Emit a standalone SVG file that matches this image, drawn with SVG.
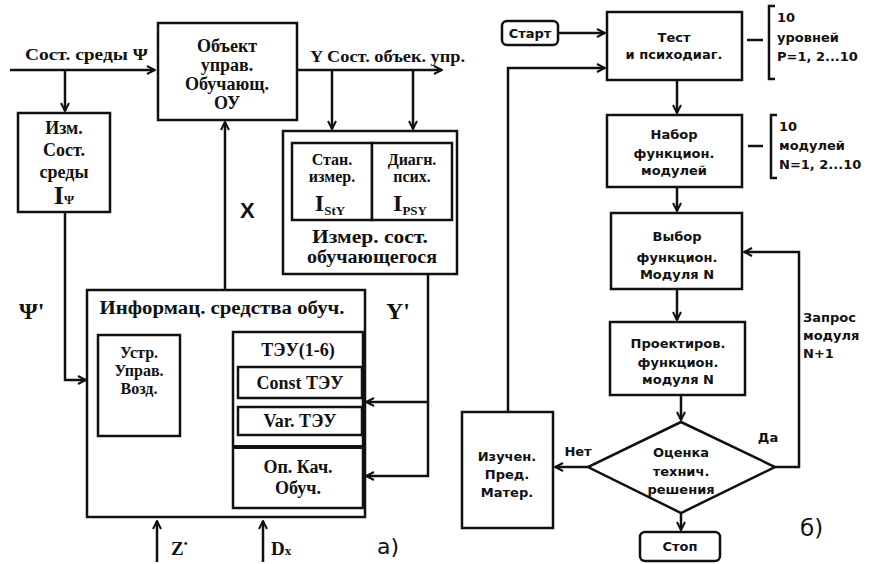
<svg xmlns="http://www.w3.org/2000/svg" width="876" height="564" viewBox="0 0 876 564">
<defs>
<style>
.b{fill:#fff;stroke:#111;stroke-width:2.5}
.c{fill:none;stroke:#111;stroke-width:2.5}
.s{font-family:"Liberation Serif","DejaVu Serif",serif;font-weight:bold;font-size:18px;fill:#111;text-anchor:middle}
.m{font-size:16px}
.f{font-family:"DejaVu Sans","Noto Sans",sans-serif;font-weight:bold;font-size:13px;fill:#111;text-anchor:middle}
.l{text-anchor:start}
</style>
<marker id="a" viewBox="0 0 10 10" refX="9" refY="5" markerWidth="10" markerHeight="10" markerUnits="userSpaceOnUse" orient="auto">
<path d="M1,1 L9,5 L1,9" fill="none" stroke="#111" stroke-width="2"/>
</marker>
</defs>
<rect width="876" height="564" fill="#fff"/>

<g id="connectors">
<path class="c" d="M10,70 H155" marker-end="url(#a)"/>
<path class="c" d="M65,70 V111" marker-end="url(#a)"/>
<path class="c" d="M65,212 V380 H86" marker-end="url(#a)"/>
<path class="c" d="M297,70 H442" marker-end="url(#a)"/>
<path class="c" d="M332,70 V129" marker-end="url(#a)"/>
<path class="c" d="M413,70 V129" marker-end="url(#a)"/>
<path class="c" d="M225,290 V122" marker-end="url(#a)"/>
<path class="c" d="M428,274 V476 H366" marker-end="url(#a)"/>
<path class="c" d="M428,402 H366" marker-end="url(#a)"/>
<path class="c" d="M233,380 H182" marker-end="url(#a)"/>
<path class="c" d="M157,562 V521" marker-end="url(#a)"/>
<path class="c" d="M263,562 V521" marker-end="url(#a)"/>
<path class="c" d="M558,33 H605" marker-end="url(#a)"/>
<path class="c" d="M508,412 V68 H605" marker-end="url(#a)"/>
<path class="c" d="M677,80 V113" marker-end="url(#a)"/>
<path class="c" d="M677,187 V211" marker-end="url(#a)"/>
<path class="c" d="M677,289 V320" marker-end="url(#a)"/>
<path class="c" d="M681,395 V420" marker-end="url(#a)"/>
<path class="c" d="M681,513 V530" marker-end="url(#a)"/>
<path class="c" d="M588,467 H555" marker-end="url(#a)"/>
<path class="c" d="M775,467 H799 V252 H744" marker-end="url(#a)"/>
<path class="c" d="M747,40 H763"/>
<path class="c" d="M748,146 H763"/>
<path class="c" d="M775,6 H769 V79 H775"/>
<path class="c" d="M777,115 H771 V178 H777"/>
</g>

<g id="labels">
<text class="s l" x="25" y="60" textLength="123" lengthAdjust="spacingAndGlyphs" style="font-size:17px">Сост. среды Ψ</text>
<text class="s l" x="310" y="62" textLength="155" lengthAdjust="spacingAndGlyphs" style="font-size:17px">Y Сост. объек. упр.</text>
<text class="s l" x="19" y="319" style="font-size:24px">Ψ'</text>
<text class="l" x="240" y="218" font-family="Liberation Sans,Arial,sans-serif" font-weight="bold" font-size="22" fill="#111">X</text>
<text class="s l" x="386" y="319" style="font-size:24px">Y'</text>
<text class="s l" x="192" y="377" style="font-size:20px">Y'<tspan style="font-size:12px" dy="3">эу</tspan></text>
<text class="s l" x="171" y="555" style="font-size:19px">Z<tspan style="font-size:11px" dy="-8">•</tspan></text>
<text class="s l" x="271" y="555" style="font-size:19px">D<tspan style="font-size:13px">x</tspan></text>
<text class="l" x="377" y="554" font-family="DejaVu Sans,sans-serif" font-size="22" fill="#111">а)</text>
<text class="l" x="800" y="536" font-family="DejaVu Sans,sans-serif" font-size="23" fill="#111">б)</text>
<text class="f l" x="777" y="22">10</text>
<text class="f l" x="777" y="42">уровней</text>
<text class="f l" x="777" y="61">P=1, 2...10</text>
<text class="f l" x="779" y="131">10</text>
<text class="f l" x="779" y="150">модулей</text>
<text class="f l" x="779" y="169">N=1, 2...10</text>
<text class="f l" x="803" y="322">Запрос</text>
<text class="f l" x="803" y="340">модуля</text>
<text class="f l" x="803" y="358">N+1</text>
<text class="f" x="578" y="456">Нет</text>
<text class="f" x="768" y="442">Да</text>
</g>

<g id="obj">
<rect class="b" x="158" y="23" width="139" height="97"/>
<text class="s" x="227" y="52">Объект</text>
<text class="s" x="227" y="71">управ.</text>
<text class="s" x="227" y="90">Обучающ.</text>
<text class="s" x="227" y="109">ОУ</text>
</g>

<g id="izm">
<rect class="b" x="18" y="113" width="92" height="99"/>
<text class="s" x="64" y="134">Изм.</text>
<text class="s" x="64" y="156">Сост.</text>
<text class="s" x="64" y="178">среды</text>
<text class="s" x="64" y="204" style="font-size:26px">I<tspan style="font-size:13px">Ψ</tspan></text>
</g>

<g id="meas">
<rect class="b" x="283" y="131" width="174" height="143"/>
<rect class="b" x="292" y="143" width="80" height="77"/>
<rect class="b" x="372" y="143" width="80" height="77"/>
<text class="s m" x="332" y="165">Стан.</text>
<text class="s m" x="332" y="182">измер.</text>
<text class="s" x="330" y="211" style="font-size:24px">I<tspan style="font-size:13px" dy="4">StY</tspan></text>
<text class="s m" x="412" y="165">Диагн.</text>
<text class="s m" x="412" y="182">псих.</text>
<text class="s" x="410" y="211" style="font-size:24px">I<tspan style="font-size:13px" dy="4">PSY</tspan></text>
<text class="s" x="370" y="243" textLength="116" lengthAdjust="spacingAndGlyphs">Измер. сост.</text>
<text class="s" x="372" y="263" textLength="130" lengthAdjust="spacingAndGlyphs">обучающегося</text>
</g>

<g id="info">
<rect class="b" x="87" y="290" width="278" height="227"/>
<text class="s" x="222" y="314" textLength="245" lengthAdjust="spacingAndGlyphs">Информац. средства обуч.</text>
</g>

<g id="ustr">
<rect class="b" x="98" y="335" width="82" height="101"/>
<text class="s m" x="139" y="358">Устр.</text>
<text class="s m" x="139" y="376">Управ.</text>
<text class="s m" x="139" y="394">Возд.</text>
</g>

<g id="teu">
<rect class="b" x="233" y="332" width="130" height="176"/>
<text class="s" x="298" y="356">ТЭУ(1-6)</text>
<rect class="b" x="238" y="367" width="124" height="31"/>
<text class="s" x="300" y="389">Const ТЭУ</text>
<rect class="b" x="238" y="407" width="124" height="28"/>
<text class="s" x="300" y="427">Var. ТЭУ</text>
<path d="M233,447 H363" stroke="#111" stroke-width="4"/>
<text class="s" x="298" y="473">Оп. Кач.</text>
<text class="s" x="298" y="494">Обуч.</text>
</g>

<g id="start">
<rect class="b" x="502" y="21" width="56" height="24" rx="5"/>
<text class="f" x="530" y="38">Старт</text>
</g>

<g id="test">
<rect class="b" x="607" y="12" width="135" height="68"/>
<text class="f" x="674" y="42">Тест</text>
<text class="f" x="674" y="59">и психодиаг.</text>
</g>

<g id="nabor">
<rect class="b" x="607" y="115" width="135" height="72"/>
<text class="f" x="674" y="139">Набор</text>
<text class="f" x="674" y="158">функцион.</text>
<text class="f" x="674" y="175">модулей</text>
</g>

<g id="vybor">
<rect class="b" x="611" y="213" width="131" height="76"/>
<text class="f" x="677" y="241">Выбор</text>
<text class="f" x="677" y="262">функцион.</text>
<text class="f" x="677" y="279">Модуля N</text>
</g>

<g id="proekt">
<rect class="b" x="610" y="322" width="135" height="73"/>
<text class="f" x="678" y="348">Проектиров.</text>
<text class="f" x="678" y="367">функцион.</text>
<text class="f" x="678" y="384">модуля N</text>
</g>

<g id="ocenka">
<path class="b" d="M681,422 L775,467 L681,513 L588,467 Z"/>
<text class="f" x="681" y="457">Оценка</text>
<text class="f" x="681" y="476">технич.</text>
<text class="f" x="681" y="494">решения</text>
</g>

<g id="izuchen">
<rect class="b" x="462" y="412" width="91" height="116"/>
<text class="f" x="507" y="461">Изучен.</text>
<text class="f" x="507" y="479">Пред.</text>
<text class="f" x="507" y="497">Матер.</text>
</g>

<g id="stop">
<rect class="b" x="640" y="532" width="80" height="29" rx="5"/>
<text class="f" x="680" y="551">Стоп</text>
</g>
</svg>
